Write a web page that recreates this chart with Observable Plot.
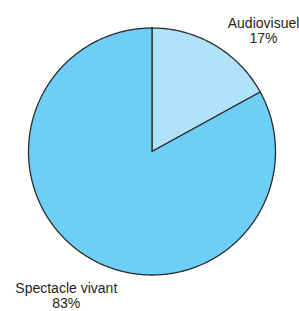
<!DOCTYPE html>
<html><head><meta charset="utf-8">
<script src="https://cdn.jsdelivr.net/npm/d3@7"></script>
<script src="https://cdn.jsdelivr.net/npm/@observablehq/plot@0.6"></script>
<style>body{margin:0;background:#fff} svg{display:block}</style>
</head><body><div id="chart"></div>
<script>
const categories = ["Audiovisuel", "Spectacle vivant"];
const values = [17, 83];
const valueLabels = ["17%", "83%"];
const colors = ["#b0e2fa", "#6dcff6"];

// label anchor layout (unit-circle coordinates)
const labelX = [0.903, -0.694];
const labelY = [0.979, -1.167];

const arcs = d3.pie().sort(null).value(d => d)(values);
const pts = [];
arcs.forEach((a, i) => {
  const cat = categories[i];
  pts.push({cat, x: 0, y: 0});
  const n = Math.max(2, Math.ceil((a.endAngle - a.startAngle) / 0.01));
  for (let k = 0; k <= n; k++) {
    const t = a.startAngle + (a.endAngle - a.startAngle) * k / n;
    pts.push({cat, x: Math.sin(t), y: Math.cos(t)});
  }
});
const labels = categories.map((c, i) => ({x: labelX[i], y: labelY[i], text: c + "\n" + valueLabels[i]}));

const chart = Plot.plot({
  width: 299, height: 311,
  marginLeft: 28, marginRight: 24, marginTop: 27.5, marginBottom: 36.5,
  style: {fontFamily: "Liberation Sans, Arial, sans-serif", background: "#fff"},
  x: {domain: [-1, 1], axis: null},
  y: {domain: [-1, 1], axis: null},
  color: {domain: categories, range: colors},
  marks: [
    Plot.line(pts, {x: "x", y: "y", z: "cat", fill: "cat", stroke: "#2b2b2b", strokeWidth: 1.3, curve: "linear-closed", strokeLinejoin: "round"}),
    Plot.text(labels, {x: "x", y: "y", text: "text", fontSize: 14, lineHeight: 1.1, fill: "#231f20", textAnchor: "middle"})
  ]
});
document.getElementById("chart").appendChild(chart);
</script>
</body></html>
